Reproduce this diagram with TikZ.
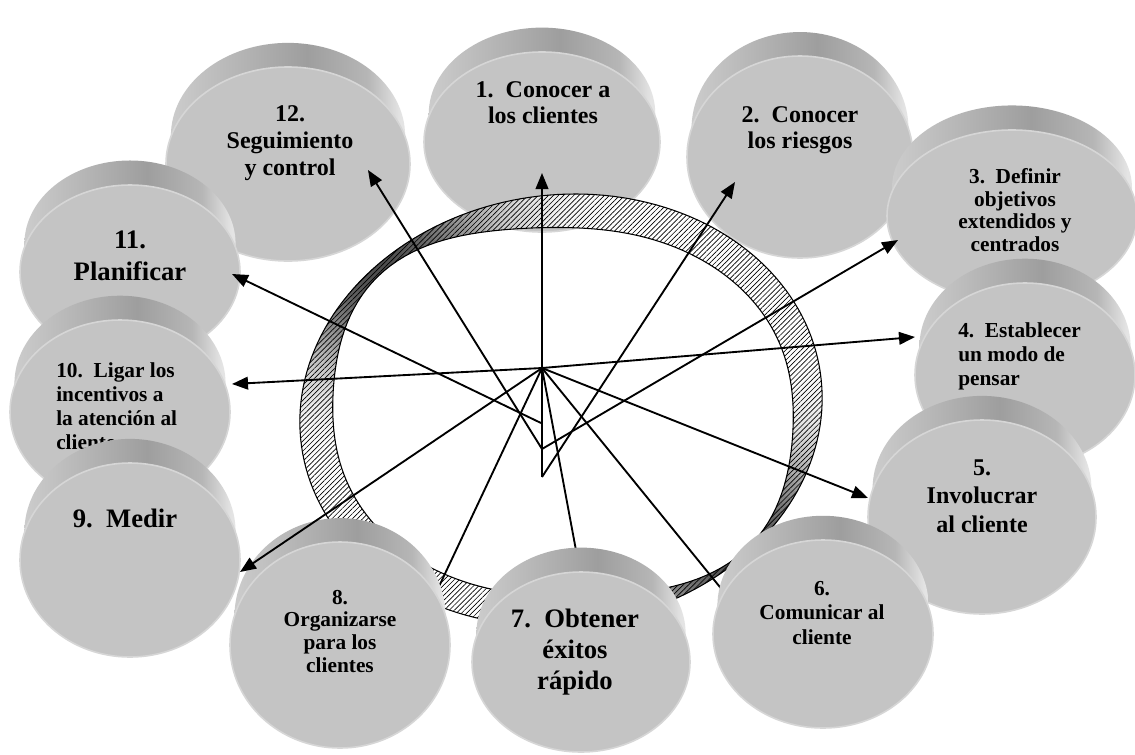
\documentclass[tikz,border=0pt]{standalone}
\usepackage{fontspec}
\setmainfont{Liberation Serif}
\usetikzlibrary{arrows.meta,patterns.meta}

\definecolor{facegray}{RGB}{196,196,196}
\definecolor{rimlight}{RGB}{214,214,214}
\definecolor{bandA}{RGB}{204,204,204}
\definecolor{bandB}{RGB}{158,158,158}
\definecolor{bandC}{RGB}{182,182,182}
\definecolor{bandD}{RGB}{228,228,228}

% side band of a disc: light at the left, dark just right of the middle, bright rim at the right
\pgfdeclarehorizontalshading{discband}{100bp}{color(0bp)=(bandA); color(25bp)=(bandA);
  color(54bp)=(bandB); color(67bp)=(bandC); color(74bp)=(bandD); color(100bp)=(bandD)}

\tikzset{
  face/.style={fill=facegray, draw=rimlight, line width=1.2pt},
  disctext/.style={align=center, inner sep=0pt, text=black},
  link/.style={line width=1.4pt, black},
  tipped/.style={-{Triangle[length=12pt,width=9.5pt]}},
  hatch/.style={pattern={Lines[angle=45,distance=2.7pt,line width=0.5pt]}},
  % tilted ring: outer rim, and an inner rim that comes close to it towards upper left and lower right
  declare function={
    ringw(\t)=33-27*(cos(\t-232)*cos(\t-232))^4;
    ox(\t)=561+262*cos(\t)*cos(8)+215*sin(\t)*sin(8);
    oy(\t)=410-262*cos(\t)*sin(8)+215*sin(\t)*cos(8);
    ix(\t)=563+(262-ringw(\t))*cos(\t)*cos(8)+(215-ringw(\t))*sin(\t)*sin(8);
    iy(\t)=412-(262-ringw(\t))*cos(\t)*sin(8)+(215-ringw(\t))*sin(\t)*cos(8);
  },
}

\newcommand\fs[2]{\fontsize{#1}{#2}\selectfont\bfseries}

% a disc seen slightly from above: shaded side band, then the flat face
\newcommand\drawdisc[4]{%
  \shade[shading=discband] (#1,#2-28) ellipse [x radius=0.96*#3, y radius=0.96*#4];
  \path[face] (#1,#2) ellipse [x radius=#3, y radius=#4];
}

\newcommand\outerring{plot[domain=0:360,samples=181] ({ox(\x)},{oy(\x)}) -- cycle}
\newcommand\innerring{plot[domain=0:360,samples=181] ({ix(\x)},{iy(\x)}) -- cycle}

\begin{document}
\begin{tikzpicture}[x=0.75pt,y=-0.75pt]
\useasboundingbox (0,0) rectangle (1135,754);
\fill[white] (0,0) rectangle (1135,754);

% discs lying behind the ring
\drawdisc{542}{142}{118}{90}
\node[disctext, font=\fs{18}{19.5}] (t1) at (543,103) {1.\ \ Conocer a\\los clientes};

\drawdisc{800}{157}{113}{101}
\node[disctext, font=\fs{18}{19.5}] (t2) at (800,130) {2.\ \ Conocer\\los riesgos};

\drawdisc{288}{164}{122}{97}
\node[disctext, font=\fs{18}{20}] (t12) at (290,143) {12.\\Seguimiento\\y control};

\drawdisc{1012}{216}{125}{86}
\node[disctext, font=\fs{16}{17}] (t3) at (1015,210) {3.\ \ Definir\\objetivos\\extendidos y\\centrados};

\drawdisc{130}{272}{110}{87}
\node[disctext, font=\fs{20}{24}] (t11) at (130,256) {11.\\Planificar};

\drawdisc{1025}{375}{110}{92}
\node[disctext, font=\fs{16}{18}, anchor=west, align=left] (t4) at (958,356) {4.\ \ Establecer\\un modo de\\pensar};

\drawdisc{120}{412}{110}{92}
\node[disctext, font=\fs{16}{18}, anchor=west, align=left] (t10) at (56,406) {10.\ \ Ligar los\\incentivos a\\la atención al\\cliente};

\drawdisc{982}{517}{114}{97}
\node[disctext, font=\fs{18}{21.5}] (t5) at (982,496) {5.\\Involucrar\\al cliente};

\drawdisc{130}{560}{110}{97}
\node[disctext, font=\fs{20}{24}] (t9) at (125,518) {9.\ \ Medir};

% hatched ring; where it narrows the hatching looks denser, so it is underlaid with grey there
\path[fill=white, even odd rule] \outerring \innerring;
\foreach \t in {176,178,...,288,356,358,...,468}{
  \pgfmathsetmacro\k{70*(cos(\t+1-232)*cos(\t+1-232))^4}
  \fill[black!\k] ({ox(\t)},{oy(\t)}) -- ({ox(\t+2.3)},{oy(\t+2.3)})
    -- ({ix(\t+2.3)},{iy(\t+2.3)}) -- ({ix(\t)},{iy(\t)}) -- cycle;
}
\path[hatch, even odd rule] \outerring \innerring;
\draw[line width=0.8pt] \outerring;
\draw[line width=0.8pt] \innerring;

% points the connectors start from and end at
\coordinate (hub) at (542,368);
\coordinate (s1) at (542,477);
\coordinate (s2) at (542,449);
\coordinate (s3) at (541,423);
\coordinate (e1) at (542,173);
\coordinate (e2) at (735,182);
\coordinate (e3) at (898,240);
\coordinate (e4) at (915,337);
\coordinate (e5) at (868,498);
\coordinate (e6) at (728,597);
\coordinate (e7) at (578,561);
\coordinate (e8) at (434,597);
\coordinate (e9) at (240,572);
\coordinate (e10) at (232,384);
\coordinate (e11) at (232,274);
\coordinate (e12) at (368,170);

\draw[link, tipped] (s1) -- (e1);
\draw[link, tipped] (s1) -- (e2);
\draw[link, tipped] (s2) -- (e3);
\draw[link, tipped] (s2) -- (e12);
\draw[link, tipped] (s3) -- (e11);
\draw[link, tipped] (hub) -- (e10);
\draw[link, tipped] (hub) -- (e4);
\draw[link, tipped] (hub) -- (e5);
\draw[link] (hub) -- (e6);
\draw[link] (hub) -- (e7);
\draw[link] (hub) -- (e8);

% discs in front of the ring
\drawdisc{340}{645}{110}{103}
\node[disctext, font=\fs{16}{17}] (t8) at (340,631) {8.\\Organizarse\\para los\\clientes};

\draw[link, tipped] (hub) -- (e9);

\drawdisc{823}{634}{110}{94}
\node[disctext, font=\fs{16}{18.5}] (t6) at (822,613) {6.\\Comunicar al\\cliente};

\drawdisc{581}{662}{109}{90}
\node[disctext, font=\fs{20}{23}] (t7) at (575,652) {7.\ \ Obtener\\éxitos\\rápido};
\end{tikzpicture}
\end{document}
